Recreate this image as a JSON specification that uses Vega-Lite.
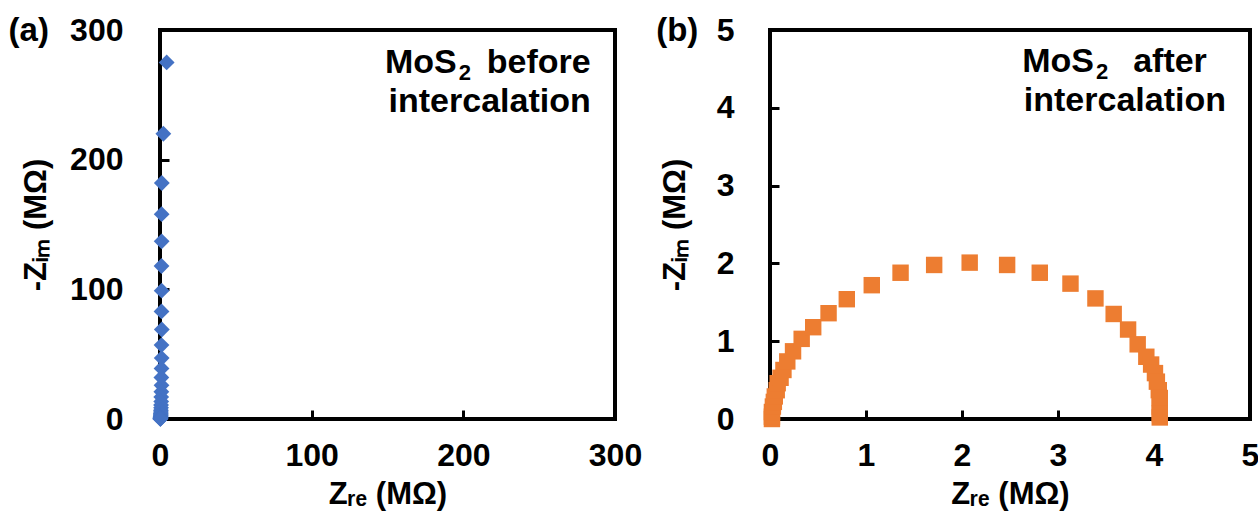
{
  "$schema": "https://vega.github.io/schema/vega-lite/v6.json",
  "background": "white",
  "padding": {"left": 6, "top": 12, "right": 0, "bottom": 0},
  "spacing": 10,
  "config": {
    "font": "Liberation Sans",
    "view": {"stroke": "black", "strokeWidth": 4},
    "axis": {
      "grid": false,
      "domain": false,
      "tickSize": -9,
      "tickWidth": 3,
      "tickColor": "black",
      "labelFont": "Liberation Sans",
      "labelFontWeight": "bold",
      "labelFontSize": 32,
      "labelColor": "black",
      "labelFlush": false,
      "format": "d",
      "titleFont": "Liberation Sans",
      "titleFontWeight": "bold",
      "titleFontSize": 31,
      "titleColor": "black"
    },
    "axisX": {"labelPadding": 30, "titlePadding": 8},
    "axisY": {"labelPadding": 46, "titlePadding": 17},
    "title": {"font": "Liberation Sans", "fontWeight": "bold", "fontSize": 33, "color": "black"}
  },
  "datasets": {
    "before": [
      {"zre": 4.4, "zim": 275},
      {"zre": 2.2, "zim": 220},
      {"zre": 1.2, "zim": 182},
      {"zre": 1.1, "zim": 158},
      {"zre": 1.1, "zim": 137},
      {"zre": 1.0, "zim": 118},
      {"zre": 1.1, "zim": 99},
      {"zre": 1.0, "zim": 83},
      {"zre": 1.2, "zim": 69},
      {"zre": 1.0, "zim": 57},
      {"zre": 1.1, "zim": 47},
      {"zre": 1.0, "zim": 39},
      {"zre": 0.9, "zim": 32},
      {"zre": 1.0, "zim": 26},
      {"zre": 0.9, "zim": 21},
      {"zre": 0.8, "zim": 17},
      {"zre": 0.8, "zim": 13.5},
      {"zre": 0.7, "zim": 10.8},
      {"zre": 0.7, "zim": 8.6},
      {"zre": 0.6, "zim": 6.8},
      {"zre": 0.6, "zim": 5.4},
      {"zre": 0.5, "zim": 4.2},
      {"zre": 0.5, "zim": 3.3},
      {"zre": 0.5, "zim": 2.5},
      {"zre": 0.4, "zim": 1.9},
      {"zre": 0.4, "zim": 1.4},
      {"zre": 0.4, "zim": 1.0},
      {"zre": 0.3, "zim": 0.7},
      {"zre": 0.3, "zim": 0.4},
      {"zre": 0.3, "zim": 0.2},
      {"zre": 0.2, "zim": 0.05}
    ],
    "after": [
      {"zre": 0.02, "zim": 0.0},
      {"zre": 0.02, "zim": 0.03},
      {"zre": 0.02, "zim": 0.09},
      {"zre": 0.03, "zim": 0.16},
      {"zre": 0.04, "zim": 0.22},
      {"zre": 0.05, "zim": 0.29},
      {"zre": 0.07, "zim": 0.37},
      {"zre": 0.08, "zim": 0.46},
      {"zre": 0.11, "zim": 0.53},
      {"zre": 0.14, "zim": 0.63},
      {"zre": 0.18, "zim": 0.74},
      {"zre": 0.24, "zim": 0.87},
      {"zre": 0.33, "zim": 1.03},
      {"zre": 0.45, "zim": 1.18},
      {"zre": 0.61, "zim": 1.36},
      {"zre": 0.80, "zim": 1.54},
      {"zre": 1.06, "zim": 1.72},
      {"zre": 1.36, "zim": 1.88},
      {"zre": 1.71, "zim": 1.98},
      {"zre": 2.08, "zim": 2.01},
      {"zre": 2.47, "zim": 1.98},
      {"zre": 2.81, "zim": 1.88},
      {"zre": 3.13, "zim": 1.74},
      {"zre": 3.39, "zim": 1.55},
      {"zre": 3.58, "zim": 1.35},
      {"zre": 3.73, "zim": 1.15},
      {"zre": 3.83, "zim": 0.96},
      {"zre": 3.92, "zim": 0.80},
      {"zre": 3.97, "zim": 0.70},
      {"zre": 4.01, "zim": 0.59},
      {"zre": 4.03, "zim": 0.48},
      {"zre": 4.05, "zim": 0.37},
      {"zre": 4.06, "zim": 0.27},
      {"zre": 4.06, "zim": 0.16},
      {"zre": 4.06, "zim": 0.07},
      {"zre": 4.06, "zim": 0.02}
    ],
    "labelA": [{"name": "MoS", "sub": "2", "rest": "before", "line2": "intercalation"}],
    "labelB": [{"name": "MoS", "sub": "2", "rest": "after", "line2": "intercalation"}]
  },
  "hconcat": [
    {
      "width": 455,
      "height": 389,
      "title": {"text": "(a)", "anchor": "start", "frame": "bounds", "offset": -34, "dx": -12},
      "layer": [
        {
          "data": {"name": "before"},
          "mark": {"type": "point", "shape": "diamond", "filled": true, "size": 250, "color": "#4472C4", "opacity": 1},
          "encoding": {
            "x": {"field": "zre", "type": "quantitative", "scale": {"domain": [0, 300], "nice": false}, "axis": {"values": [0, 100, 200, 300], "title": "Zᵣₑ (MΩ)"}},
            "y": {"field": "zim", "type": "quantitative", "scale": {"domain": [0, 300], "nice": false}, "axis": {"values": [0, 100, 200, 300], "title": "-Zᵢₘ (MΩ)"}}
          }
        },
        {
          "data": {"name": "labelA"},
          "mark": {"type": "text", "align": "right", "baseline": "alphabetic", "fontSize": 34, "fontWeight": "bold", "font": "Liberation Sans", "color": "black"},
          "encoding": {"x": {"datum": 284, "type": "quantitative"}, "y": {"datum": 267, "type": "quantitative"}, "text": {"field": "rest"}}
        },
        {
          "data": {"name": "labelA"},
          "mark": {"type": "text", "align": "right", "baseline": "alphabetic", "fontSize": 34, "fontWeight": "bold", "font": "Liberation Sans", "color": "black", "dx": -134},
          "encoding": {"x": {"datum": 284, "type": "quantitative"}, "y": {"datum": 267, "type": "quantitative"}, "text": {"field": "name"}}
        },
        {
          "data": {"name": "labelA"},
          "mark": {"type": "text", "align": "left", "baseline": "alphabetic", "fontSize": 22, "fontWeight": "bold", "font": "Liberation Sans", "color": "black", "dx": -132, "dy": 7},
          "encoding": {"x": {"datum": 284, "type": "quantitative"}, "y": {"datum": 267, "type": "quantitative"}, "text": {"field": "sub"}}
        },
        {
          "data": {"name": "labelA"},
          "mark": {"type": "text", "align": "right", "baseline": "alphabetic", "fontSize": 34, "fontWeight": "bold", "font": "Liberation Sans", "color": "black"},
          "encoding": {"x": {"datum": 284, "type": "quantitative"}, "y": {"datum": 237, "type": "quantitative"}, "text": {"field": "line2"}}
        }
      ]
    },
    {
      "width": 480,
      "height": 389,
      "title": {"text": "(b)", "anchor": "start", "frame": "bounds", "offset": -34, "dx": -3},
      "layer": [
        {
          "data": {"name": "after"},
          "mark": {"type": "point", "shape": "square", "filled": true, "size": 270, "color": "#ED7D31", "opacity": 1},
          "encoding": {
            "x": {"field": "zre", "type": "quantitative", "scale": {"domain": [0, 5], "nice": false}, "axis": {"values": [0, 1, 2, 3, 4, 5], "title": "Zᵣₑ (MΩ)"}},
            "y": {"field": "zim", "type": "quantitative", "scale": {"domain": [0, 5], "nice": false}, "axis": {"values": [0, 1, 2, 3, 4, 5], "title": "-Zᵢₘ (MΩ)", "labelPadding": 45, "titlePadding": 25}}
          }
        },
        {
          "data": {"name": "labelB"},
          "mark": {"type": "text", "align": "center", "baseline": "alphabetic", "fontSize": 34, "fontWeight": "bold", "font": "Liberation Sans", "color": "black", "dx": -56},
          "encoding": {"x": {"datum": 4.75, "type": "quantitative"}, "y": {"datum": 4.46, "type": "quantitative"}, "text": {"field": "rest"}}
        },
        {
          "data": {"name": "labelB"},
          "mark": {"type": "text", "align": "right", "baseline": "alphabetic", "fontSize": 34, "fontWeight": "bold", "font": "Liberation Sans", "color": "black", "dx": -132},
          "encoding": {"x": {"datum": 4.75, "type": "quantitative"}, "y": {"datum": 4.46, "type": "quantitative"}, "text": {"field": "name"}}
        },
        {
          "data": {"name": "labelB"},
          "mark": {"type": "text", "align": "left", "baseline": "alphabetic", "fontSize": 22, "fontWeight": "bold", "font": "Liberation Sans", "color": "black", "dx": -130, "dy": 7},
          "encoding": {"x": {"datum": 4.75, "type": "quantitative"}, "y": {"datum": 4.46, "type": "quantitative"}, "text": {"field": "sub"}}
        },
        {
          "data": {"name": "labelB"},
          "mark": {"type": "text", "align": "right", "baseline": "alphabetic", "fontSize": 34, "fontWeight": "bold", "font": "Liberation Sans", "color": "black"},
          "encoding": {"x": {"datum": 4.75, "type": "quantitative"}, "y": {"datum": 3.96, "type": "quantitative"}, "text": {"field": "line2"}}
        }
      ]
    }
  ]
}
